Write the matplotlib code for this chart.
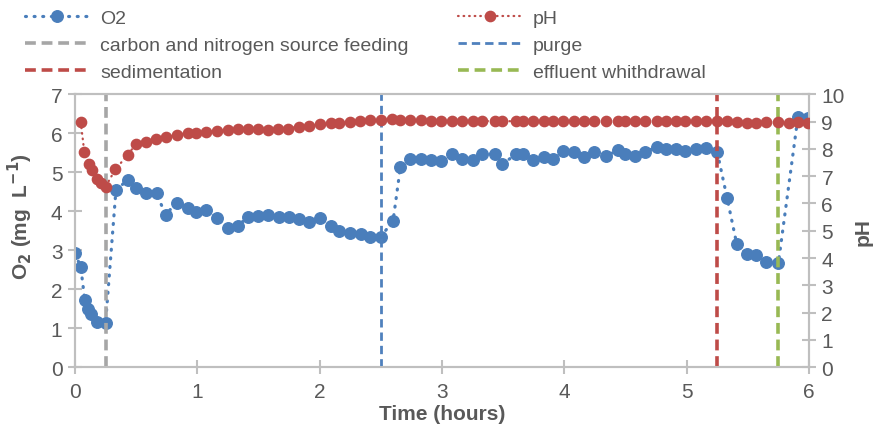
import matplotlib
matplotlib.use("Agg")
import matplotlib.pyplot as plt
from matplotlib.lines import Line2D

# ---------------- data ----------------
t_o2 = [0.0, 0.047, 0.08, 0.11, 0.13, 0.18, 0.25, 0.335, 0.43, 0.50, 0.58, 0.667,
        0.74, 0.83, 0.925, 0.99, 1.075, 1.16, 1.25, 1.33, 1.415, 1.50, 1.58, 1.67,
        1.75, 1.83, 1.91, 2.0, 2.09, 2.16, 2.245, 2.335, 2.41, 2.50, 2.60, 2.66,
        2.74, 2.83, 2.91, 2.99, 3.08, 3.165, 3.25, 3.33, 3.43, 3.49, 3.605, 3.66,
        3.74, 3.83, 3.91, 3.99, 4.08, 4.16, 4.24, 4.34, 4.44, 4.50, 4.58, 4.66,
        4.76, 4.83, 4.91, 4.99, 5.075, 5.16, 5.25, 5.33, 5.41, 5.49, 5.57, 5.65,
        5.75, 5.91, 5.99]
o2 = [2.92, 2.57, 1.72, 1.49, 1.36, 1.15, 1.13, 4.55, 4.80, 4.61, 4.48, 4.46,
      3.91, 4.22, 4.09, 3.97, 4.03, 3.82, 3.58, 3.62, 3.86, 3.88, 3.90, 3.86,
      3.86, 3.79, 3.73, 3.84, 3.61, 3.50, 3.44, 3.41, 3.35, 3.35, 3.75, 5.14,
      5.35, 5.35, 5.31, 5.29, 5.46, 5.35, 5.31, 5.46, 5.48, 5.21, 5.46, 5.46,
      5.31, 5.40, 5.35, 5.55, 5.53, 5.40, 5.53, 5.42, 5.57, 5.46, 5.42, 5.53,
      5.65, 5.59, 5.61, 5.56, 5.59, 5.62, 5.52, 4.35, 3.15, 2.90, 2.88, 2.70,
      2.68, 6.43, 6.40]

t_ph = [0.047, 0.076, 0.117, 0.136, 0.18, 0.21, 0.25, 0.33, 0.43, 0.50, 0.58, 0.66,
        0.74, 0.83, 0.925, 0.99, 1.075, 1.16, 1.25, 1.33, 1.415, 1.50, 1.58, 1.66,
        1.74, 1.83, 1.91, 2.0, 2.09, 2.16, 2.245, 2.33, 2.41, 2.50, 2.59, 2.66,
        2.74, 2.83, 2.91, 2.99, 3.08, 3.165, 3.25, 3.33, 3.43, 3.49, 3.605, 3.66,
        3.74, 3.83, 3.91, 3.99, 4.08, 4.16, 4.24, 4.34, 4.44, 4.50, 4.58, 4.66,
        4.76, 4.83, 4.91, 4.99, 5.075, 5.16, 5.25, 5.33, 5.41, 5.49, 5.57, 5.65,
        5.75, 5.84, 5.91, 5.99]
ph = [8.99, 7.90, 7.46, 7.23, 6.89, 6.77, 6.62, 7.25, 7.78, 8.19, 8.25, 8.38,
      8.44, 8.50, 8.60, 8.60, 8.63, 8.66, 8.69, 8.72, 8.72, 8.74, 8.68, 8.72,
      8.75, 8.82, 8.86, 8.90, 8.94, 8.96, 8.99, 9.02, 9.05, 9.05, 9.11, 9.08,
      9.06, 9.05, 9.02, 9.02, 9.02, 9.02, 9.02, 9.03, 9.02, 9.02, 9.02, 9.02,
      9.03, 9.03, 9.02, 9.03, 9.03, 9.03, 9.04, 9.03, 9.03, 9.03, 9.04, 9.04,
      9.03, 9.03, 9.02, 9.03, 9.03, 9.02, 9.02, 9.02, 8.98, 8.96, 8.97, 9.00,
      8.99, 8.97, 8.99, 8.97]

events = ["carbon and nitrogen source feeding", "purge", "sedimentation",
          "effluent whithdrawal"]
event_times = [0.25, 2.5, 5.25, 5.75]

x_ticks = [0, 1, 2, 3, 4, 5, 6]
o2_ticks = [0, 1, 2, 3, 4, 5, 6, 7]
ph_ticks = [0, 1, 2, 3, 4, 5, 6, 7, 8, 9, 10]

# ---------------- style ----------------
plt.rcParams["font.family"] = ["Liberation Sans", "DejaVu Sans"]

BLUE = "#4a7ebb"
RED = "#be4b48"
GREY = "#a6a6a6"
GREEN = "#98b954"
AXC = "#bfbfbf"
TXT = "#595959"

ev_colors = [GREY, "#4f81bd", RED, GREEN]
ev_lw = [2.6, 2.0, 2.6, 2.6]
ev_dash = [(3, 1.6), (3, 1.8), (3, 1.6), (3, 1.6)]

O2_STYLE = dict(color=BLUE, linestyle=(0, (0.3, 2.4)), linewidth=2.3,
                dash_capstyle="round", marker="o", markersize=8.3)
PH_STYLE = dict(color=RED, linestyle=(0, (0.3, 2.2)), linewidth=1.6,
                dash_capstyle="round", marker="o", markersize=7.4)

fig = plt.figure(figsize=(8.78, 4.39), dpi=100)
ax = fig.add_axes([0.0854, 0.1617, 0.9214 - 0.0854, 0.7825 - 0.1617])
ax2 = ax.twinx()

ax.plot(t_o2, o2, zorder=3, **O2_STYLE)
ax2.plot(t_ph, ph, zorder=3, **PH_STYLE)

ev_handles = []
for name, tt, c, lw, ds in zip(events, event_times, ev_colors, ev_lw, ev_dash):
    h = ax.axvline(tt, color=c, linewidth=lw, linestyle=(0, ds), zorder=4)
    ev_handles.append(h)

ax.set_xlim(0, 6)
ax.set_ylim(0, 7)
ax2.set_ylim(0, 10)
ax.set_xticks(x_ticks)
ax.set_yticks(o2_ticks)
ax2.set_yticks(ph_ticks)

for a in (ax, ax2):
    for s in a.spines.values():
        s.set_color(AXC)
        s.set_linewidth(1.5)
    a.tick_params(colors=AXC, labelcolor=TXT, labelsize=15, direction="inout",
                  length=10, width=1.5)
ax.tick_params(axis="x", pad=6)
ax.tick_params(axis="y", pad=4)
ax2.tick_params(axis="y", pad=4)

ax.set_xlabel("Time (hours)", fontsize=15, fontweight="bold", color=TXT, labelpad=2)
ax.set_ylabel("O$_\\mathbf{2}$ (mg  L$^{\\mathbf{-1}}$)", fontsize=15, fontweight="bold",
              color=TXT)
ax.yaxis.set_label_coords(-0.0545, 0.557)
ax2.set_ylabel("pH", fontsize=15, fontweight="bold", color=TXT, labelpad=6)

# legend
o2_h = Line2D([], [], **O2_STYLE)
ph_h = Line2D([], [], **PH_STYLE)
handles = [o2_h, ev_handles[0], ev_handles[2], ph_h, ev_handles[1], ev_handles[3]]
labels = ["O2", events[0], events[2], "pH", events[1], events[3]]
leg = fig.legend(handles, labels, ncol=2, loc="upper left",
                 bbox_to_anchor=(0.020, 0.995), frameon=False, fontsize=14,
                 handlelength=3.3, handletextpad=0.55, columnspacing=2.55,
                 labelspacing=0.5, borderaxespad=0.0)
for t in leg.get_texts():
    t.set_color(TXT)

fig.savefig("out.png", dpi=100)
